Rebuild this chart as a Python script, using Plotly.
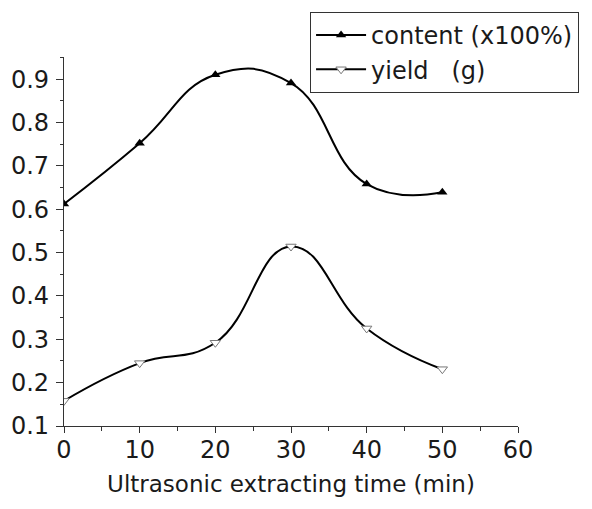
import plotly.graph_objects as go

time_min = [0, 10, 20, 30, 40, 50]
content = [0.612, 0.752, 0.910, 0.891, 0.658, 0.639]
yield_g = [0.158, 0.245, 0.292, 0.514, 0.325, 0.231]

FONT = "DejaVu Sans, Liberation Sans, Arial, sans-serif"
TXT = "#1a1a1a"

fig = go.Figure()
fig.add_trace(go.Scatter(
    x=time_min, y=content, mode="lines+markers",
    name="content (x100%)", legendgroup="a",
    line=dict(color="black", width=2, shape="spline", smoothing=1.3),
    marker=dict(symbol="triangle-up", size=9, color="black"),
))
fig.add_trace(go.Scatter(
    x=time_min, y=yield_g, mode="lines+markers",
    name="yield\u00a0\u00a0\u00a0(g)", legendgroup="b",
    line=dict(color="black", width=2, shape="spline", smoothing=1.3),
    marker=dict(symbol="triangle-down", size=9, color="white",
                line=dict(color="#777777", width=1)),
))

# page has an 8px body margin, so the margins below are offset by 8px
fig.update_layout(
    width=592, height=509,
    paper_bgcolor="white", plot_bgcolor="white",
    margin=dict(l=56, r=82, t=49, b=91, autoexpand=False),
    font=dict(family=FONT, size=24, color=TXT),
    showlegend=True,
    legend=dict(
        x=0.542, y=1.122, xanchor="left", yanchor="top",
        bordercolor="#333333", borderwidth=1, bgcolor="white",
        font=dict(family=FONT, size=24, color=TXT),
        tracegroupgap=0, itemwidth=50,
    ),
    xaxis=dict(
        range=[0, 60], tickvals=[0, 10, 20, 30, 40, 50, 60],
        showgrid=False, zeroline=False,
        showline=True, linecolor="#333333", linewidth=1.2,
        ticks="outside", ticklen=6, tickcolor="#333333",
        minor=dict(dtick=5, ticks="outside", ticklen=4, tickcolor="#333333", showgrid=False),
        tickfont=dict(size=24), ticklabelstandoff=-4,
        title=dict(text="Ultrasonic extracting time (min)", font=dict(size=23), standoff=12),
    ),
    yaxis=dict(
        range=[0.1, 0.951], tickvals=[0.1, 0.2, 0.3, 0.4, 0.5, 0.6, 0.7, 0.8, 0.9],
        showgrid=False, zeroline=False,
        showline=True, linecolor="#333333", linewidth=1.2,
        ticks="outside", ticklen=7, tickcolor="#333333",
        minor=dict(dtick=0.05, tick0=0.1, ticks="outside", ticklen=3, tickcolor="#333333", showgrid=False),
        tickfont=dict(size=24), ticklabelstandoff=2,
    ),
)

fig.write_html("out.html")
